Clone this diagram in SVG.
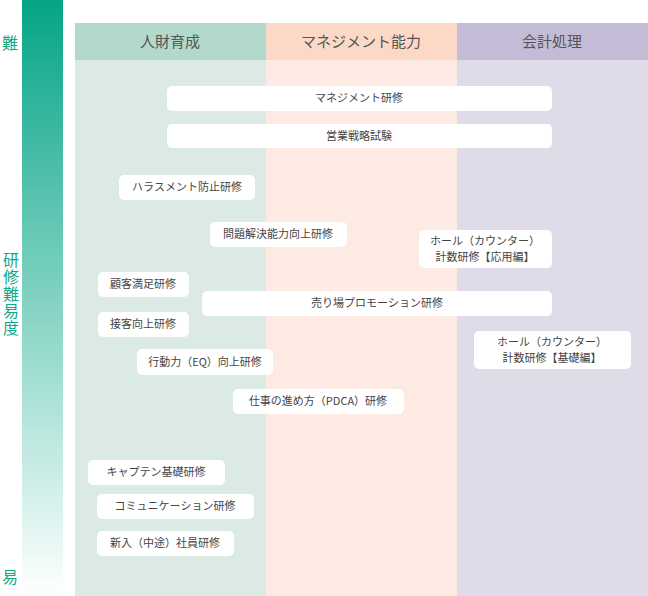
<svg xmlns="http://www.w3.org/2000/svg" width="648" height="596" viewBox="0 0 648 596">
<defs>
<linearGradient id="g" x1="0" y1="0" x2="0" y2="1"><stop offset="0" stop-color="#04a586"/><stop offset="1" stop-color="#ffffff"/></linearGradient>
<style>
.b{fill:#fff}
.t{font-family:"Noto Sans CJK JP","Noto Sans",sans-serif;font-size:11px;fill:#444;text-anchor:middle}
.h{font-family:"Noto Sans CJK JP","Noto Sans",sans-serif;font-size:15px;fill:#555;text-anchor:middle}
.l{font-family:"Noto Sans CJK JP","Noto Sans",sans-serif;font-size:16px;fill:#10a98a;text-anchor:middle}
</style>
</defs>
<rect width="648" height="596" fill="#fff"/>
<rect x="22" y="0" width="41" height="596" fill="url(#g)"/>
<text class="l" x="10" y="49">難</text>
<text class="l" x="11" y="294" style="writing-mode:vertical-rl;letter-spacing:1px">研修難易度</text>
<text class="l" x="10" y="583">易</text>
<g id="col1"><rect x="75" y="23" width="191" height="573" fill="#dbeae4"/><rect x="75" y="23" width="191" height="37" fill="#b3d8cc"/><text class="h" x="170" y="47">人財育成</text></g>
<g id="col2"><rect x="266" y="23" width="191" height="573" fill="#fdebe3"/><rect x="266" y="23" width="191" height="37" fill="#fcd9c6"/><text class="h" x="361" y="47">マネジメント能力</text></g>
<g id="col3"><rect x="457" y="23" width="191" height="573" fill="#dfdbe8"/><rect x="457" y="23" width="191" height="37" fill="#c4bcd7"/><text class="h" x="552" y="47">会計処理</text></g>
<g id="n1"><rect class="b" x="167" y="86" width="385" height="25" rx="5"/><text class="t" x="359" y="102">マネジメント研修</text></g>
<g id="n2"><rect class="b" x="167" y="124" width="385" height="24" rx="5"/><text class="t" x="359" y="140">営業戦略試験</text></g>
<g id="n3"><rect class="b" x="119" y="175" width="136" height="25" rx="5"/><text class="t" x="187" y="191">ハラスメント防止研修</text></g>
<g id="n4"><rect class="b" x="210" y="222" width="137" height="25" rx="5"/><text class="t" x="278" y="238">問題解決能力向上研修</text></g>
<g id="n5"><rect class="b" x="419" y="230" width="133" height="38" rx="5"/><text class="t" x="485" y="245">ホール（カウンター）</text><text class="t" x="485" y="261">計数研修【応用編】</text></g>
<g id="n6"><rect class="b" x="98" y="272" width="91" height="25" rx="5"/><text class="t" x="143" y="288">顧客満足研修</text></g>
<g id="n7"><rect class="b" x="202" y="291" width="350" height="25" rx="5"/><text class="t" x="377" y="307">売り場プロモーション研修</text></g>
<g id="n8"><rect class="b" x="98" y="312" width="91" height="25" rx="5"/><text class="t" x="143" y="328">接客向上研修</text></g>
<g id="n9"><rect class="b" x="474" y="331" width="157" height="38" rx="5"/><text class="t" x="552" y="346">ホール（カウンター）</text><text class="t" x="552" y="362">計数研修【基礎編】</text></g>
<g id="n10"><rect class="b" x="137" y="349" width="136" height="26" rx="5"/><text class="t" x="205" y="366">行動力（EQ）向上研修</text></g>
<g id="n11"><rect class="b" x="233" y="389" width="171" height="25" rx="5"/><text class="t" x="318" y="405">仕事の進め方（PDCA）研修</text></g>
<g id="n12"><rect class="b" x="88" y="460" width="137" height="25" rx="5"/><text class="t" x="156" y="476">キャプテン基礎研修</text></g>
<g id="n13"><rect class="b" x="97" y="494" width="157" height="25" rx="5"/><text class="t" x="175" y="510">コミュニケーション研修</text></g>
<g id="n14"><rect class="b" x="97" y="531" width="137" height="25" rx="5"/><text class="t" x="165" y="547">新入（中途）社員研修</text></g>
<g id="connectors"/>
</svg>
